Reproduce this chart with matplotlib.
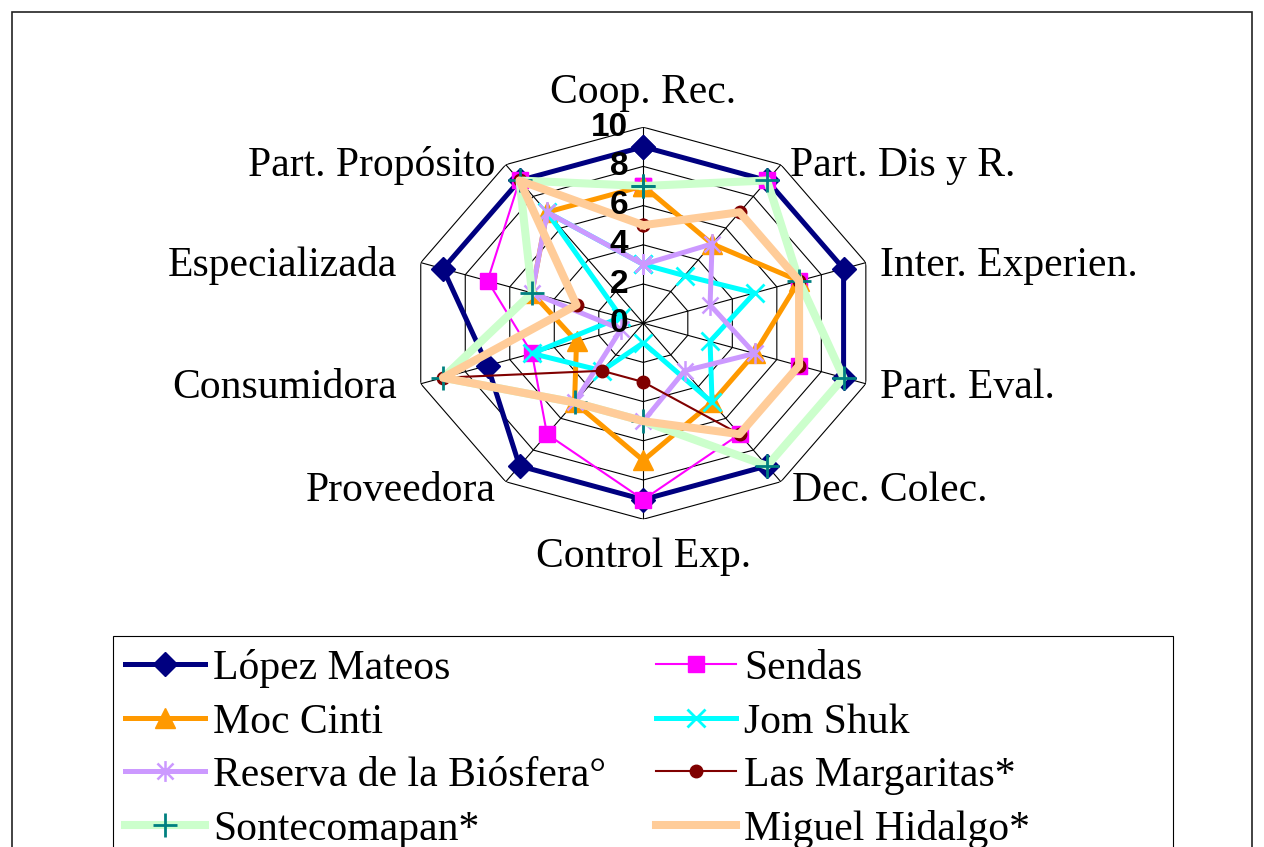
import numpy as np
import matplotlib.pyplot as plt
from matplotlib.path import Path
from matplotlib.patches import Rectangle

# Categories of the radar, clockwise starting at the top
Categories = ['Coop. Rec.', 'Part. Dis y R.', 'Inter. Experien.', 'Part. Eval.',
              'Dec. Colec.', 'Control Exp.', 'Proveedora', 'Consumidora',
              'Especializada', 'Part. Propósito']

# Scores for every community (same order as Categories)
LopezMateos = [9, 9, 9, 9, 9, 9, 9, 7, 9, 9]
Sendas = [7, 9, 7, 7, 7, 9, 7, 5, 7, 9]
MocCinti = [7, 5, 7, 5, 5, 7, 5, 3, 5, 7]
JomShuk = [3, 3, 5, 3, 5, 1, 3, 5, 1, 7]
Reserva = [3, 5, 3, 5, 3, 5, 5, 1, 5, 7]
Margaritas = [5, 7, 7, 7, 7, 3, 3, 9, 3, 9]
Sontecomapan = [7, 9, 7, 9, 9, 5, 5, 9, 5, 9]
MiguelHidalgo = [5, 7, 7, 7, 7, 5, 5, 9, 3, 9]

SeriesNames = ['López Mateos', 'Sendas', 'Moc Cinti', 'Jom Shuk',
               'Reserva de la Biósfera°', 'Las Margaritas*', 'Sontecomapan*',
               'Miguel Hidalgo*']
SeriesValues = [LopezMateos, Sendas, MocCinti, JomShuk, Reserva, Margaritas,
                Sontecomapan, MiguelHidalgo]

Ticks = [0, 2, 4, 6, 8, 10]

# Asterisk marker like the excel one (x with a vertical bar)
Star = Path([(-1, -1), (1, 1), (-1, 1), (1, -1), (0, -1.3), (0, 1.3)],
            [Path.MOVETO, Path.LINETO, Path.MOVETO, Path.LINETO, Path.MOVETO, Path.LINETO])

# Line / marker style of each series
Styles = [
    dict(color='#000080', lw=3.6, marker='D', ms=12, mfc='#000080', mec='#000080'),
    dict(color='#FF00FF', lw=1.5, marker='s', ms=11, mfc='#FF00FF', mec='#FF00FF'),
    dict(color='#FF9900', lw=3.6, marker='^', ms=14, mfc='#FF9900', mec='#FF9900'),
    dict(color='#00FFFF', lw=3.6, marker='x', ms=13, mec='#00FFFF', mew=2),
    dict(color='#CC99FF', lw=3.6, marker=Star, ms=15, mec='#CC99FF', mew=1.8),
    dict(color='#800000', lw=1.5, marker='o', ms=9, mfc='#800000', mec='#800000'),
    dict(color='#CCFFCC', lw=5.8, marker='+', ms=17, mec='#008080', mew=2),
    dict(color='#FFCC99', lw=5.8, marker=None),
]

SerifFont = 'Liberation Serif'
LabelSize = 30

fig = plt.figure(figsize=(12.64, 8.47), dpi=100)

# Outer chart frame
fig.patches.append(Rectangle((12/1264, -0.05), 1240/1264, 1.05 - 12/847,
                             transform=fig.transFigure, fill=False,
                             edgecolor='#222222', lw=1.2))

# Polar axes with free aspect so the decagon is stretched like the original
ax = fig.add_axes([409.3/1264, 1 - 519.2/847, 468/1264, 392/847], projection='polar')
ax.set_theta_zero_location('N')
ax.set_theta_direction(-1)
ax.set_ylim(0, 10)
ax.set_aspect('auto')
ax.axis('off')

N = len(Categories)
Angles = np.arange(N) * 2 * np.pi / N
Closed = np.append(Angles, Angles[0])

# Decagon grid and spokes
for r in Ticks[1:]:
    ax.plot(Closed, [r] * (N + 1), color='black', lw=0.8, zorder=1)
for a in Angles:
    ax.plot([a, a], [0, 10], color='black', lw=0.8, zorder=1)

# Data series
Handles = []
for i, (Name, Vals) in enumerate(zip(SeriesNames, SeriesValues)):
    Line, = ax.plot(Closed, Vals + Vals[:1], label=Name, clip_on=False,
                    zorder=2 + i, **Styles[i])
    Handles.append(Line)

# Value labels along the top spoke
for t in Ticks:
    ax.annotate(str(t), xy=(0, t), xytext=(-11, 0), textcoords='offset points',
                ha='right', va='center', fontsize=24, fontweight='bold',
                family='Liberation Sans', zorder=20)

# Category labels (offsets in pixels from the outer vertex)
LabelOffsets = [(0, 24, 'center'), (9, -11, 'left'), (14, -13, 'left'), (14, -14, 'left'),
                (11, -19, 'left'), (0, -48, 'center'), (-10, -19, 'right'),
                (-24, -14, 'right'), (-24, -13, 'right'), (-10, -11, 'right')]
for a, Cat, (dx, dy, ha) in zip(Angles, Categories, LabelOffsets):
    ax.annotate(Cat, xy=(a, 10), xytext=(dx * 0.72, dy * 0.72), textcoords='offset points',
                ha=ha, va='baseline', fontsize=LabelSize, family=SerifFont)

# Legend box
fig.patches.append(Rectangle((113/1264, -0.05), 1060/1264, 0.05 + 1 - 636/847,
                             transform=fig.transFigure, fill=False,
                             edgecolor='black', lw=0.8))

# Excel fills the legend row by row, matplotlib column by column
Order = [0, 2, 4, 6, 1, 3, 5, 7]
fig.legend([Handles[i] for i in Order], [SeriesNames[i] for i in Order],
           loc='upper left', bbox_to_anchor=(125/1264, 1 - 649/847), ncol=2,
           frameon=False, prop={'family': SerifFont, 'size': LabelSize},
           handlelength=1.92, handletextpad=0.2, columnspacing=1.18,
           labelspacing=0.36, borderpad=0, borderaxespad=0)

fig.savefig('out.png', dpi=100)
